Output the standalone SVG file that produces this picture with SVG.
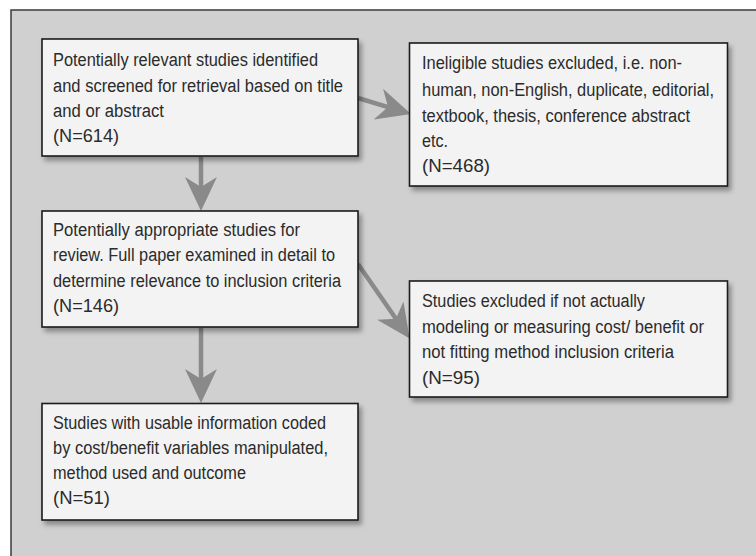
<svg xmlns="http://www.w3.org/2000/svg" width="756" height="556" viewBox="0 0 756 556">
<defs>
<style>
.frame{fill:#d0d0d0;stroke:#3a3a3a;stroke-width:1.5}
.box{fill:#f3f3f3;stroke:#1c1c1c;stroke-width:1.6;filter:url(#sh)}
.t{font-family:"Liberation Sans",Arial,sans-serif;font-size:18px;fill:#2b2b2b}
.arr{stroke:#8a8a8a;stroke-width:4.5;fill:none;marker-end:url(#ah)}
</style>
<filter id="sh" x="-10%" y="-10%" width="130%" height="140%">
<feDropShadow dx="3" dy="4" stdDeviation="2.5" flood-color="#000" flood-opacity="0.35"/>
</filter>
<marker id="ah" markerUnits="userSpaceOnUse" viewBox="0 0 34 32" refX="23" refY="16" markerWidth="34" markerHeight="32" orient="auto">
<path d="M0,0 L34,16 L0,32 L10,16 Z" fill="#8a8a8a"/>
</marker>
</defs>
<rect class="frame" x="11" y="10" width="770" height="570"/>
<g id="connectors">
<line class="arr" x1="358" y1="98" x2="400.5" y2="110.8"/>
<line class="arr" x1="201" y1="157" x2="201" y2="200"/>
<line class="arr" x1="358" y1="264" x2="403.4" y2="329.5"/>
<line class="arr" x1="201" y1="328" x2="201" y2="392"/>
</g>
<g id="n1">
<rect class="box" x="42" y="39" width="316" height="117"/>
<text class="t" x="53" y="66" textLength="265" lengthAdjust="spacingAndGlyphs">Potentially relevant studies identified</text>
<text class="t" x="53" y="91.5" textLength="290" lengthAdjust="spacingAndGlyphs">and screened for retrieval based on title</text>
<text class="t" x="53" y="117" textLength="111" lengthAdjust="spacingAndGlyphs">and or abstract</text>
<text class="t" x="53" y="142" textLength="66" lengthAdjust="spacingAndGlyphs">(N=614)</text>
</g>
<g id="n2">
<rect class="box" x="409.5" y="43" width="318" height="143"/>
<text class="t" x="422" y="69" textLength="260" lengthAdjust="spacingAndGlyphs">Ineligible studies excluded, i.e. non-</text>
<text class="t" x="422" y="95.5" textLength="292" lengthAdjust="spacingAndGlyphs">human, non-English, duplicate, editorial,</text>
<text class="t" x="422" y="121.5" textLength="268" lengthAdjust="spacingAndGlyphs">textbook, thesis, conference abstract</text>
<text class="t" x="422" y="147" textLength="26" lengthAdjust="spacingAndGlyphs">etc.</text>
<text class="t" x="422" y="172" textLength="68" lengthAdjust="spacingAndGlyphs">(N=468)</text>
</g>
<g id="n3">
<rect class="box" x="42" y="211" width="316" height="116"/>
<text class="t" x="53" y="235.5" textLength="247" lengthAdjust="spacingAndGlyphs">Potentially appropriate studies for</text>
<text class="t" x="53" y="261" textLength="282" lengthAdjust="spacingAndGlyphs">review. Full paper examined in detail to</text>
<text class="t" x="53" y="286.5" textLength="288" lengthAdjust="spacingAndGlyphs">determine relevance to inclusion criteria</text>
<text class="t" x="53" y="312" textLength="66" lengthAdjust="spacingAndGlyphs">(N=146)</text>
</g>
<g id="n4">
<rect class="box" x="409.5" y="281" width="318" height="116"/>
<text class="t" x="422" y="307" textLength="223" lengthAdjust="spacingAndGlyphs">Studies excluded if not actually</text>
<text class="t" x="422" y="333" textLength="282" lengthAdjust="spacingAndGlyphs">modeling or measuring cost/ benefit or</text>
<text class="t" x="422" y="358" textLength="252" lengthAdjust="spacingAndGlyphs">not fitting method inclusion criteria</text>
<text class="t" x="422" y="383.5" textLength="58" lengthAdjust="spacingAndGlyphs">(N=95)</text>
</g>
<g id="n5">
<rect class="box" x="42" y="403.5" width="316" height="116.5"/>
<text class="t" x="53" y="428.5" textLength="273" lengthAdjust="spacingAndGlyphs">Studies with usable information coded</text>
<text class="t" x="53" y="453.5" textLength="275" lengthAdjust="spacingAndGlyphs">by cost/benefit variables manipulated,</text>
<text class="t" x="53" y="479" textLength="193" lengthAdjust="spacingAndGlyphs">method used and outcome</text>
<text class="t" x="53" y="504" textLength="57" lengthAdjust="spacingAndGlyphs">(N=51)</text>
</g>
</svg>
